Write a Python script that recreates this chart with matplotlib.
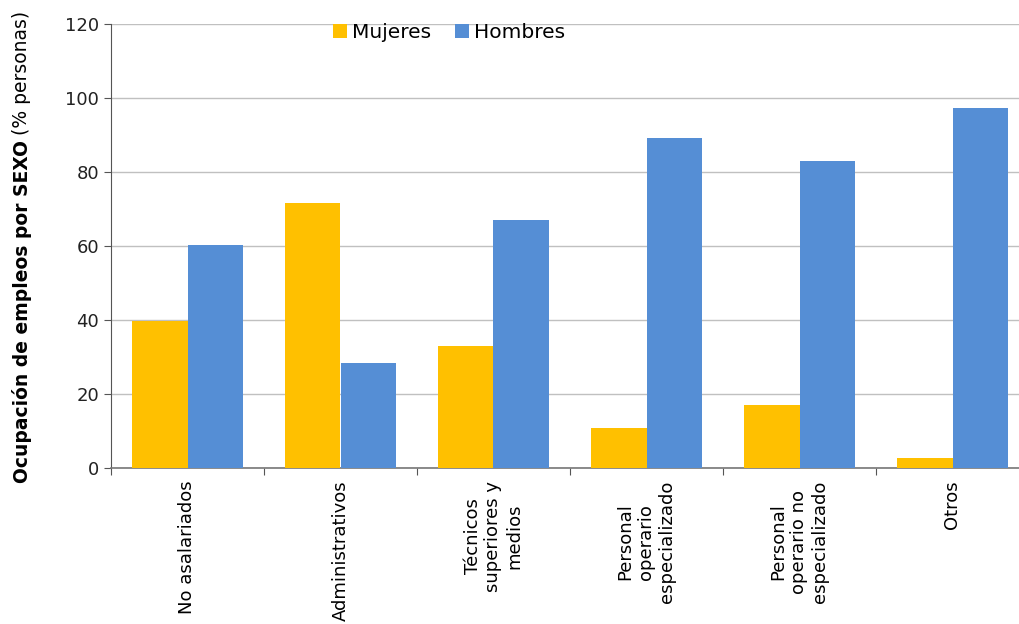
import matplotlib
matplotlib.use("Agg")
import numpy as np
import matplotlib.pyplot as plt

# datos (% personas)
categorias = ["No asalariados", "Administrativos", "Técnicos\nsuperiores y\nmedios",
              "Personal\noperario\nespecializado", "Personal\noperario no\nespecializado",
              "Otros"]
mujeres = [39.8, 71.6, 33.1, 10.7, 17.1, 2.8]
hombres = [60.2, 28.4, 66.9, 89.3, 82.9, 97.2]
yticks = [0, 20, 40, 60, 80, 100, 120]

plt.rcParams['font.family'] = ['DejaVu Sans']

fig = plt.figure(figsize=(10.19, 6.24), dpi=100)
ax = fig.add_axes([111 / 1019, 1 - 468 / 624, 918 / 1019, 444 / 624])

x = np.arange(len(categorias))
w = 0.366
ax.bar(x - w / 2, mujeres, w, color='#FFC000', label='Mujeres', zorder=3)
ax.bar(x + w / 2, hombres, w, color='#558ED5', label='Hombres', zorder=3)

ax.set_xlim(-0.5, len(categorias) - 0.5)
ax.set_ylim(0, 120)
ax.set_yticks(yticks)
ax.yaxis.grid(True, color='#c0c0c0', linewidth=1, zorder=0)
ax.tick_params(axis='y', labelsize=13, length=5, color='#555555', labelcolor='#222222')

# ticks en los limites de categoria, etiquetas en el centro
ax.set_xticks(np.arange(len(categorias) + 1) - 0.5)
ax.set_xticklabels([])
ax.set_xticks(x, minor=True)
ax.set_xticklabels(categorias, minor=True, rotation=90, fontsize=13,
                   multialignment='center', va='top', ha='center')
ax.tick_params(axis='x', which='minor', length=0, pad=9)
ax.tick_params(axis='x', which='major', length=5, color='#555555')

for s in ['top', 'right']:
    ax.spines[s].set_visible(False)
ax.spines['left'].set_color('#555555')
ax.spines['bottom'].set_color('#777777')
ax.spines['bottom'].set_linewidth(1.2)

ax.legend(loc='upper left', bbox_to_anchor=(0.222, 1.042), ncol=2, frameon=False,
          fontsize=14.5, handlelength=0.7, handleheight=0.7, handletextpad=0.25,
          columnspacing=1.2)

# etiqueta del eje y: parte en negrita + parte normal
r = fig.canvas.get_renderer()
t1 = fig.text(22 / 1019, 1 - 483 / 624, "Ocupación de empleos por SEXO", rotation=90,
              fontsize=13.5, fontweight='bold', ha='center', va='bottom')
bb = t1.get_window_extent(r)
fig.text(22 / 1019, (bb.y1 + 5) / 624, "(% personas)", rotation=90,
         fontsize=13.5, ha='center', va='bottom')

fig.savefig("out.png", dpi=100)
